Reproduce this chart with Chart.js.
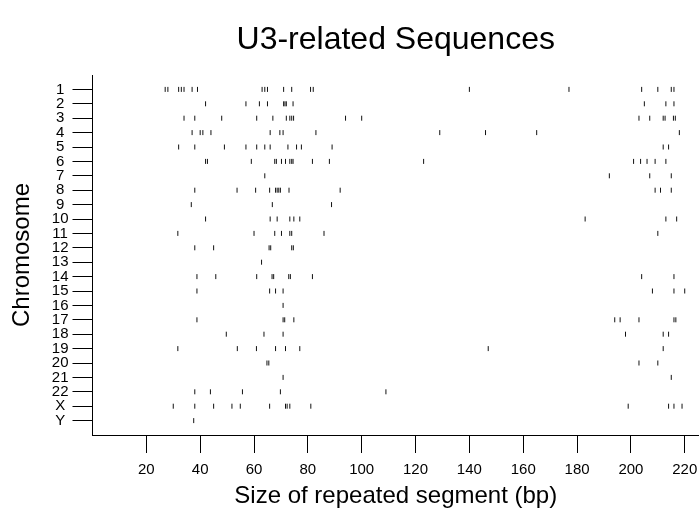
<!DOCTYPE html>
<html>
<head>
<meta charset="utf-8">
<script src="https://cdn.jsdelivr.net/npm/chart.js@4"></script>
<style>
  body { margin: 0; background: #fff; }
  #wrap { width: 699px; height: 512px; }
</style>
</head>
<body>
<div id="wrap"><canvas id="u3Chart"></canvas></div>
<script>
// chromosome labels, top to bottom
var chromosomes = ['1', '2', '3', '4', '5', '6', '7', '8', '9', '10', '11', '12',
    '13', '14', '15', '16', '17', '18', '19', '20', '21', '22', 'X', 'Y'];

// x-axis tick values
var sizeTicks = [20, 40, 60, 80, 100, 120, 140, 160, 180, 200, 220];

// sizes of repeated segments (bp), one array per chromosome
var chr1 = [27, 28, 32, 33, 34, 37, 39, 63, 64, 65, 71, 74, 81, 82, 140, 177, 204, 210, 215, 216];
var chr2 = [42, 57, 62, 65, 71, 71.5, 72, 74.5, 205, 213, 216];
var chr3 = [34, 38, 48, 61, 67, 72, 73.3, 74, 74.7, 94, 100, 203, 207, 212, 212.7, 215.8, 216.5];
var chr4 = [37, 40, 41, 44, 66, 69.6, 70.8, 83, 129, 146, 165, 218];
var chr5 = [32, 38, 49, 57, 61, 64, 66, 72.6, 75.8, 77.6, 89, 212, 214];
var chr6 = [42, 42.7, 59, 67.7, 68.3, 70.2, 71.7, 73.3, 74, 74.5, 81.7, 88, 123, 201, 203.6, 206, 209, 213];
var chr7 = [64, 192, 207, 215];
var chr8 = [38, 53.7, 60.6, 65.8, 68, 68.6, 69.2, 69.8, 73, 92, 209, 211, 215];
var chr9 = [36.7, 66.8, 88.8];
var chr10 = [42, 66, 68.6, 73.3, 74.8, 77, 183, 213, 217];
var chr11 = [31.7, 60, 67.7, 70.2, 73.3, 74, 86, 210];
var chr12 = [38, 45, 65.6, 66.2, 74, 74.6];
var chr13 = [62.8];
var chr14 = [38.8, 45.8, 61, 66.7, 67.3, 72.9, 73.5, 81.7, 204, 216];
var chr15 = [38.8, 65.8, 68, 70.8, 208, 216, 220];
var chr16 = [70.8];
var chr17 = [38.8, 70.8, 71.4, 74.8, 194, 196, 203, 216, 216.7];
var chr18 = [49.7, 63.7, 70.8, 198, 212, 214];
var chr19 = [31.7, 53.8, 60.9, 68, 71.7, 77, 147, 212];
var chr20 = [64.8, 65.5, 203, 210];
var chr21 = [70.8, 215];
var chr22 = [38, 43.8, 55.7, 69.8, 109];
var chrX = [30, 38, 45, 51.8, 54.9, 65.8, 71.7, 72.3, 73.3, 81.1, 199, 214, 216, 219];
var chrY = [37.6];

var sizeRows = [chr1, chr2, chr3, chr4, chr5, chr6, chr7, chr8, chr9, chr10, chr11, chr12,
    chr13, chr14, chr15, chr16, chr17, chr18, chr19, chr20, chr21, chr22, chrX, chrY];

document.addEventListener('DOMContentLoaded', function () {
    Chart.defaults.color = '#000';
    Chart.defaults.font.family = '"Liberation Sans", Arial, Helvetica, sans-serif';

    var points = [];
    sizeRows.forEach(function (row, i) {
        row.forEach(function (v) {
            points.push({ x: v, y: i + 1 });
        });
    });

    var ctx = document.getElementById('u3Chart').getContext('2d');
    var u3Chart = new Chart(ctx, {
        type: 'scatter',
        data: {
            datasets: [{
                label: 'U3-related sequences',
                data: points,
                pointStyle: 'line',
                rotation: 90,
                radius: 2.5,
                hoverRadius: 2.5,
                borderColor: '#111',
                borderWidth: 1
            }]
        },
        options: {
            responsive: true,
            maintainAspectRatio: false,
            animation: false,
            layout: { padding: 0, autoPadding: false },
            plugins: {
                legend: { display: false },
                tooltip: { enabled: false },
                title: {
                    display: true,
                    text: 'U3-related Sequences',
                    fullSize: false,
                    font: { size: 32, weight: 'normal' },
                    padding: { top: 21, bottom: 15.6 }
                }
            },
            scales: {
                x: {
                    type: 'linear',
                    min: 0,
                    max: 225.3,
                    afterBuildTicks: function (scale) {
                        scale.ticks = sizeTicks.map(function (v) { return { value: v }; });
                    },
                    afterFit: function (scale) {
                        scale.height = 77;
                        scale.paddingLeft = 0;
                        scale.paddingRight = 0;
                    },
                    ticks: { font: { size: 15 }, padding: 8, maxRotation: 0, autoSkip: false },
                    grid: { drawOnChartArea: false, tickLength: 18, color: '#000', tickColor: '#000' },
                    border: { display: true, color: '#000', width: 1 },
                    title: {
                        display: true,
                        text: 'Size of repeated segment (bp)',
                        font: { size: 24 },
                        padding: { top: 0, bottom: 1 }
                    }
                },
                y: {
                    type: 'linear',
                    reverse: true,
                    min: 0,
                    max: 25,
                    afterBuildTicks: function (scale) {
                        scale.ticks = chromosomes.map(function (c, i) { return { value: i + 1 }; });
                    },
                    afterFit: function (scale) { scale.width = 92.5; },
                    ticks: {
                        font: { size: 15 },
                        padding: 4,
                        crossAlign: 'center',
                        autoSkip: false,
                        callback: function (value) { return chromosomes[value - 1]; }
                    },
                    grid: { drawOnChartArea: false, tickLength: 20, color: '#000', tickColor: '#000' },
                    border: { display: true, color: '#000', width: 1 },
                    title: {
                        display: true,
                        text: 'Chromosome',
                        font: { size: 24 },
                        padding: { top: 8, bottom: 0 }
                    }
                }
            }
        }
    });
});
</script>
</body>
</html>
